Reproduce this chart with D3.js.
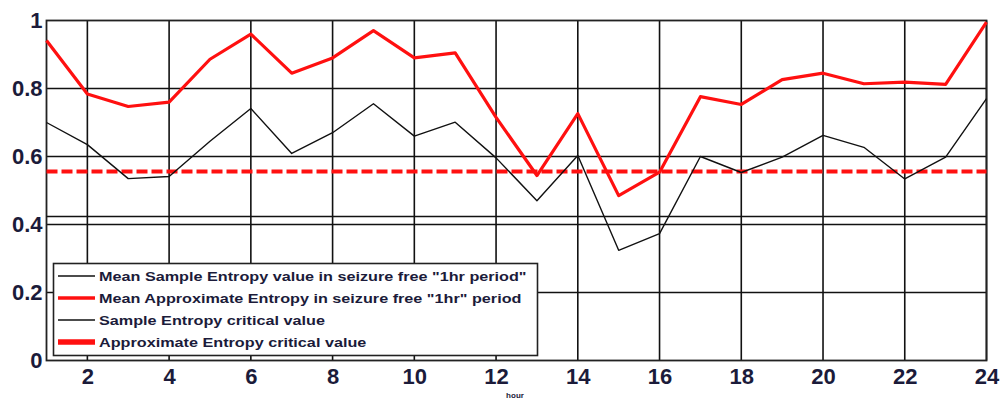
<!DOCTYPE html>
<html>
<head>
<meta charset="utf-8">
<script src="https://cdn.jsdelivr.net/npm/d3@7"></script>
<style>
  body { margin: 0; background: #fff; }
  svg { display: block; }
</style>
</head>
<body>
<svg id="chart" width="1002" height="400"></svg>
<script>
var hours = d3.range(1, 25);
var sampleEntropy = [0.70, 0.635, 0.535, 0.541, 0.645, 0.741, 0.609, 0.67, 0.755, 0.66,
                     0.701, 0.596, 0.47, 0.603, 0.324, 0.373, 0.60, 0.553, 0.598, 0.662,
                     0.627, 0.534, 0.598, 0.77];
var approxEntropy = [0.941, 0.784, 0.747, 0.76, 0.886, 0.96, 0.845, 0.89, 0.97, 0.89,
                     0.905, 0.715, 0.544, 0.726, 0.485, 0.554, 0.776, 0.753, 0.826, 0.845,
                     0.814, 0.819, 0.812, 0.995];
var sampleCritical = 0.4235;
var approxCritical = 0.556;
var xTicks = [2, 4, 6, 8, 10, 12, 14, 16, 18, 20, 22, 24];
var yTicks = [0, 0.2, 0.4, 0.6, 0.8, 1];
var legendLabels = [
  'Mean Sample Entropy value in seizure free "1hr period"',
  'Mean Approximate Entropy in seizure free "1hr" period',
  'Sample Entropy critical value',
  'Approximate Entropy critical value'
];

function makeChart(){
    var svg = d3.select("#chart");
    var container = svg.append("g");
    var left = 46.5, right = 986.5, top = 20.5, bottom = 360.5;
    var labelColor = "#1b1b3a";

    var xScale = d3.scaleLinear().domain([1, 24]).range([left, right]);
    var yScale = d3.scaleLinear().domain([0, 1]).range([bottom, top]);

    // grid
    container.append("g").selectAll("line")
        .data(xTicks)
        .enter().append("line")
        .attr("x1", function(d){ return xScale(d); })
        .attr("x2", function(d){ return xScale(d); })
        .attr("y1", top).attr("y2", bottom)
        .attr("stroke", "#111").attr("stroke-width", 1.6);

    container.append("g").selectAll("line")
        .data(yTicks.filter(function(d){ return d > 0 && d < 1; }))
        .enter().append("line")
        .attr("x1", left).attr("x2", right)
        .attr("y1", function(d){ return yScale(d); })
        .attr("y2", function(d){ return yScale(d); })
        .attr("stroke", "#111").attr("stroke-width", 1.6);

    // frame
    container.append("rect")
        .attr("x", left).attr("y", top)
        .attr("width", right - left).attr("height", bottom - top)
        .attr("fill", "none").attr("stroke", "#222").attr("stroke-width", 1.8);

    // axes labels
    var xAxis = container.append("g")
        .attr("transform", "translate(0," + bottom + ")")
        .call(d3.axisBottom(xScale).tickValues(xTicks).tickSize(0).tickPadding(8));
    xAxis.select(".domain").remove();
    xAxis.selectAll("text")
        .attr("font-family", "Liberation Sans, Arial, sans-serif")
        .attr("font-weight", "bold").attr("font-size", "22px")
        .attr("fill", labelColor);

    var yAxis = container.append("g")
        .attr("transform", "translate(" + left + ",0)")
        .call(d3.axisLeft(yScale).tickValues(yTicks).tickFormat(d3.format("~g")).tickSize(0).tickPadding(4));
    yAxis.select(".domain").remove();
    yAxis.selectAll("text")
        .attr("font-family", "Liberation Sans, Arial, sans-serif")
        .attr("font-weight", "bold").attr("font-size", "22px")
        .attr("fill", labelColor);

    // critical values
    container.append("line")
        .attr("x1", left).attr("x2", right)
        .attr("y1", yScale(sampleCritical)).attr("y2", yScale(sampleCritical))
        .attr("stroke", "#111").attr("stroke-width", 1.6);

    container.append("line")
        .attr("x1", left).attr("x2", right)
        .attr("y1", yScale(approxCritical)).attr("y2", yScale(approxCritical))
        .attr("stroke", "#ff1010").attr("stroke-width", 4)
        .attr("stroke-dasharray", "11,4");

    var line = d3.line()
        .x(function(d, i){ return xScale(hours[i]); })
        .y(function(d){ return yScale(d); });

    container.append("path")
        .datum(sampleEntropy)
        .attr("fill", "none").attr("stroke", "#111")
        .attr("stroke-width", 1.4).attr("stroke-linejoin", "round")
        .attr("d", line);

    container.append("path")
        .datum(approxEntropy)
        .attr("fill", "none").attr("stroke", "#ff1010")
        .attr("stroke-width", 3.2).attr("stroke-linejoin", "round")
        .attr("d", line);

    // legend
    var legend = container.append("g");
    legend.append("rect")
        .attr("x", 53.5).attr("y", 263.5)
        .attr("width", 484).attr("height", 92)
        .attr("fill", "#fff").attr("stroke", "#222").attr("stroke-width", 1.6);

    var colors = ["#111", "#ff1010", "#111", "#ff1010"];
    var widths = [1.4, 3.5, 1.4, 5.5];
    var rows = legend.selectAll("g.item")
        .data(legendLabels)
        .enter().append("g")
        .attr("class", "item")
        .attr("transform", function(d, i){ return "translate(0," + (276 + i * 22) + ")"; });

    rows.append("line")
        .attr("x1", 58).attr("x2", 95).attr("y1", 0).attr("y2", 0)
        .attr("stroke", function(d, i){ return colors[i]; })
        .attr("stroke-width", function(d, i){ return widths[i]; });

    rows.append("text")
        .attr("transform", "translate(99,0) scale(1.2,1)")
        .attr("dy", "0.36em")
        .attr("font-family", "Liberation Sans, Arial, sans-serif")
        .attr("font-weight", "bold").attr("font-size", "13.5px")
        .attr("fill", labelColor)
        .text(function(d){ return d; });

    container.append("text")
        .attr("x", 515).attr("y", 398)
        .attr("text-anchor", "middle")
        .attr("font-family", "Liberation Sans, Arial, sans-serif")
        .attr("font-weight", "bold").attr("font-size", "8px")
        .attr("fill", labelColor)
        .text("hour");
}

makeChart();
</script>
</body>
</html>
